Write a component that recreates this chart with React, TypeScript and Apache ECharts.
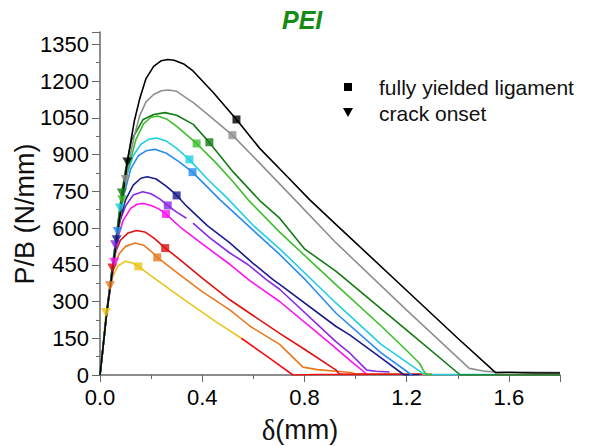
import React, { useEffect, useRef } from 'react';
import * as echarts from 'echarts';

// ---------- data (δ in mm, P/B in N/mm) ----------
const seriesNames = ['yellow', 'orange', 'red', 'magenta', 'violet', 'navy', 'blue', 'cyan', 'green', 'darkgreen', 'gray', 'black'];
const seriesColors = ['#e8c51c', '#e8791e', '#e01010', '#ff10f0', '#8a2be2', '#1c1c8c', '#2a8cf0', '#20d0e0', '#3cbf2c', '#147a14', '#8f8f8f', '#000000'];

const yellowCurve: any[] = [[0, 0], [0.01, 95], [0.023, 255], [0.035, 330], [0.05, 400], [0.07, 445], [0.098, 464], [0.125, 458], [0.15, 443], [0.2, 405], [0.3125, 320], [0.45, 220], [0.553, 150]];
const yellowTail: any[] = [[0.553, 150], [0.655, 75], [0.755, 0], [0.85, 2], [1.05, 2]];
const orangeCurve: any[] = [[0, 0], [0.01, 95], [0.026, 252], [0.039, 364], [0.055, 440], [0.075, 495], [0.1, 525], [0.137, 539], [0.17, 530], [0.2, 505], [0.224, 480], [0.3125, 409], [0.4, 340], [0.508, 266], [0.586, 200], [0.703, 125], [0.794, 32], [0.85, 22], [0.924, 15], [0.98, 10], [1.0, 5], [1.3, 4]];
const redCurve: any[] = [[0, 0], [0.01, 95], [0.026, 252], [0.048, 437], [0.06, 500], [0.08, 550], [0.11, 580], [0.143, 590], [0.175, 584], [0.21, 560], [0.258, 516], [0.3125, 471], [0.4, 395], [0.508, 307], [0.586, 252], [0.703, 170], [0.8, 105], [0.924, 20], [0.935, 5], [0.95, 3], [1.26, 3]];
const magentaCurve: any[] = [[0, 0], [0.01, 95], [0.026, 252], [0.056, 460], [0.07, 560], [0.09, 630], [0.12, 680], [0.145, 697], [0.169, 700], [0.2, 692], [0.23, 678], [0.258, 657], [0.3125, 605], [0.4, 535], [0.508, 452], [0.586, 385], [0.703, 300], [0.911, 120], [0.977, 61], [1.048, 0]];
const violetCurve: any[] = [[0, 0], [0.01, 95], [0.026, 252], [0.059, 532], [0.075, 620], [0.1, 690], [0.13, 735], [0.167, 748], [0.2, 740], [0.235, 718], [0.263, 693], [0.3, 665], [0.338, 640], [0.351, '-'], [0.364, 620], [0.43, 560], [0.508, 498], [0.58, 450], [0.651, 389], [0.703, 350], [0.924, 135], [0.977, 90], [1.044, 20], [1.08, 15], [1.133, 12]];
const navyCurve: any[] = [[0, 0], [0.01, 95], [0.026, 252], [0.065, 552], [0.08, 640], [0.1, 715], [0.13, 775], [0.16, 803], [0.185, 809], [0.22, 800], [0.26, 770], [0.3, 734], [0.339, 689], [0.42, 610], [0.508, 539], [0.6, 455], [0.677, 389], [0.703, 370], [0.924, 198], [0.977, 164], [1.1, 70], [1.19, 0], [1.25, 2]];
const blueCurve: any[] = [[0, 0], [0.01, 95], [0.026, 252], [0.069, 586], [0.09, 720], [0.12, 840], [0.15, 895], [0.18, 915], [0.215, 921], [0.26, 905], [0.31, 870], [0.362, 828], [0.469, 716], [0.6, 590], [0.703, 492], [0.807, 385], [0.924, 252], [1.1, 90], [1.22, 0]];
const cyanCurve: any[] = [[0, 0], [0.01, 95], [0.026, 252], [0.078, 682], [0.1, 800], [0.13, 895], [0.16, 942], [0.19, 962], [0.221, 967], [0.26, 955], [0.3, 925], [0.349, 880], [0.42, 800], [0.495, 725], [0.6, 610], [0.703, 515], [0.924, 293], [1.1, 125], [1.263, 7], [1.28, 2], [1.55, 2]];
const greenCurve: any[] = [[0, 0], [0.01, 95], [0.026, 252], [0.087, 715], [0.11, 840], [0.14, 960], [0.17, 1025], [0.2, 1052], [0.225, 1057], [0.26, 1045], [0.3, 1015], [0.378, 945], [0.45, 870], [0.52, 790], [0.579, 716], [0.703, 583], [0.924, 368], [1.1, 200], [1.2, 100], [1.25, 48], [1.265, 20], [1.275, 3], [1.3, 0]];
const darkGreenCurve: any[] = [[0, 0], [0.01, 95], [0.026, 252], [0.085, 743], [0.105, 870], [0.124, 961], [0.169, 1043], [0.21, 1063], [0.254, 1071], [0.3, 1060], [0.365, 1023], [0.427, 950], [0.52, 830], [0.625, 712], [0.703, 640], [0.8, 515], [0.924, 423], [1.2, 183], [1.41, 0], [1.8, 0]];
const grayCurve: any[] = [[0, 0], [0.01, 95], [0.026, 252], [0.1, 798], [0.115, 880], [0.135, 980], [0.156, 1060], [0.18, 1115], [0.21, 1145], [0.24, 1160], [0.267, 1163], [0.3, 1158], [0.365, 1112], [0.42, 1065], [0.518, 979], [0.62, 870], [0.762, 716], [0.924, 539], [1.2, 265], [1.445, 27], [1.5, 16], [1.55, 12], [1.8, 10]];
const blackCurve: any[] = [[0, 0], [0.01, 95], [0.026, 252], [0.107, 869], [0.12, 950], [0.135, 1040], [0.156, 1130], [0.18, 1210], [0.21, 1260], [0.24, 1283], [0.265, 1288], [0.29, 1285], [0.33, 1268], [0.364, 1241], [0.443, 1153], [0.534, 1043], [0.625, 925], [0.742, 800], [0.82, 716], [0.924, 614], [1.2, 345], [1.4, 150], [1.549, 9], [1.6, 10], [1.7, 8], [1.8, 8]];

const curveData = [yellowCurve, orangeCurve, redCurve, magentaCurve, violetCurve, navyCurve, blueCurve, cyanCurve, greenCurve, darkGreenCurve, grayCurve, blackCurve];

// fully yielded ligament (squares), same order as seriesNames
const yieldPoints: number[][] = [[0.15, 443], [0.224, 480], [0.255, 518], [0.258, 657], [0.265, 692], [0.3, 733], [0.362, 828], [0.35, 880], [0.378, 945], [0.428, 950], [0.518, 979], [0.534, 1043]];
// crack onset (down triangles)
const onsetPoints: number[][] = [[0.023, 255], [0.039, 364], [0.048, 437], [0.056, 460], [0.059, 532], [0.065, 552], [0.069, 586], [0.078, 682], [0.087, 715], [0.085, 743], [0.1, 798], [0.107, 869]];

const xMax = 1.8;
const yMax = 1400;
const xMajorLabels = [0, 0.4, 0.8, 1.2, 1.6];
const yMajorLabels = [0, 150, 300, 450, 600, 750, 900, 1050, 1200, 1350];

const SANS = "'Liberation Sans', Arial, Helvetica, sans-serif";
const AXIS_COLOR = '#666666';

export default function App() {
  const ref = useRef<HTMLDivElement>(null);
  useEffect(() => {
    if (!ref.current) return;
    const chart = echarts.init(ref.current, undefined, { renderer: 'svg' });

    const lineSeries = curveData.map((d, i) => ({
      type: 'line',
      name: seriesNames[i],
      data: d,
      xAxisIndex: 0,
      yAxisIndex: 0,
      showSymbol: false,
      symbol: 'none',
      connectNulls: false,
      lineStyle: { color: seriesColors[i], width: 1.6 },
      z: 2,
      silent: true,
    }));
    const tailSeries = {
      type: 'line',
      name: 'yellowTail',
      data: yellowTail,
      showSymbol: false,
      symbol: 'none',
      lineStyle: { color: '#f01010', width: 1.6 },
      z: 2,
      silent: true,
    };
    const squareSeries = {
      type: 'scatter',
      name: 'fully yielded ligament',
      symbol: 'rect',
      symbolSize: 8,
      z: 5,
      data: yieldPoints.map((p, i) => ({ value: p, itemStyle: { color: seriesColors[i] } })),
    };
    const triangleSeries = {
      type: 'scatter',
      name: 'crack onset',
      symbol: 'triangle',
      symbolRotate: 180,
      symbolSize: [10, 9],
      z: 5,
      data: onsetPoints.map((p, i) => ({ value: p, itemStyle: { color: seriesColors[i] } })),
    };

    const isMajorX = (v: number) => xMajorLabels.some((m) => Math.abs(m - v) < 1e-6);
    const isMajorY = (v: number) => yMajorLabels.some((m) => Math.abs(m - v) < 1e-6);

    chart.setOption({
      animation: false,
      backgroundColor: '#ffffff',
      title: {
        text: 'PEI',
        left: 282,
        top: 7,
        padding: 0,
        textStyle: { color: '#148c14', fontWeight: 'bold', fontStyle: 'italic', fontSize: 25, fontFamily: SANS },
      },
      grid: { left: 100, right: 30, top: 32, bottom: 71 },
      xAxis: [
        {
          type: 'value', min: 0, max: xMax, interval: 0.2,
          axisLine: { lineStyle: { color: AXIS_COLOR, width: 1.5 } },
          axisTick: { show: true, length: 4, lineStyle: { color: AXIS_COLOR, width: 1 } },
          axisLabel: {
            formatter: (v: number) => (isMajorX(v) ? v.toFixed(1) : ''),
            color: '#000', fontSize: 22, fontFamily: SANS, margin: 11,
          },
          splitLine: { show: false },
        },
        {
          type: 'value', min: 0, max: xMax, interval: 0.4, position: 'bottom',
          axisLine: { show: false },
          axisTick: { show: true, length: 7, lineStyle: { color: AXIS_COLOR, width: 1 } },
          axisLabel: { show: false },
          splitLine: { show: false },
        },
      ],
      yAxis: [
        {
          type: 'value', min: 0, max: yMax, interval: 75,
          axisLine: { show: true, lineStyle: { color: AXIS_COLOR, width: 1.5 } },
          axisTick: { show: true, length: 4, lineStyle: { color: AXIS_COLOR, width: 1 } },
          axisLabel: {
            formatter: (v: number) => (isMajorY(v) ? String(v) : ''),
            color: '#000', fontSize: 22, fontFamily: SANS, margin: 11,
          },
          splitLine: { show: false },
        },
        {
          type: 'value', min: 0, max: yMax, interval: 150, position: 'left',
          axisLine: { show: false },
          axisTick: { show: true, length: 8, lineStyle: { color: AXIS_COLOR, width: 1 } },
          axisLabel: { show: false },
          splitLine: { show: false },
        },
      ],
      graphic: [
        { type: 'rect', shape: { x: 344, y: 83, width: 8, height: 8 }, style: { fill: '#000' } },
        { type: 'polygon', shape: { points: [[343, 108], [353, 108], [348, 117]] }, style: { fill: '#000' } },
        { type: 'text', x: 379, y: 87, style: { text: 'fully yielded ligament', fontSize: 21, fontFamily: SANS, fill: '#111', align: 'left', verticalAlign: 'middle' } },
        { type: 'text', x: 379, y: 113, style: { text: 'crack onset', fontSize: 21, fontFamily: SANS, fill: '#111', align: 'left', verticalAlign: 'middle' } },
        { type: 'text', x: 25, y: 214, rotation: Math.PI / 2, style: { text: 'P/B (N/mm)', fontSize: 27, fontFamily: SANS, fill: '#111', align: 'center', verticalAlign: 'middle' } },
        {
          type: 'text', x: 300, y: 430,
          style: {
            text: '{d|δ}(mm)', fontSize: 27, fontFamily: SANS, fill: '#111', align: 'center', verticalAlign: 'middle',
            rich: { d: { fontFamily: "'Liberation Serif', 'Times New Roman', serif", fontSize: 29, fill: '#111' } },
          },
        },
      ],
      series: [...lineSeries, tailSeries, squareSeries, triangleSeries],
    });
    return () => chart.dispose();
  }, []);
  return <div ref={ref} style={{ width: 590, height: 446, marginLeft: -8, marginTop: -8 }} />;
}
